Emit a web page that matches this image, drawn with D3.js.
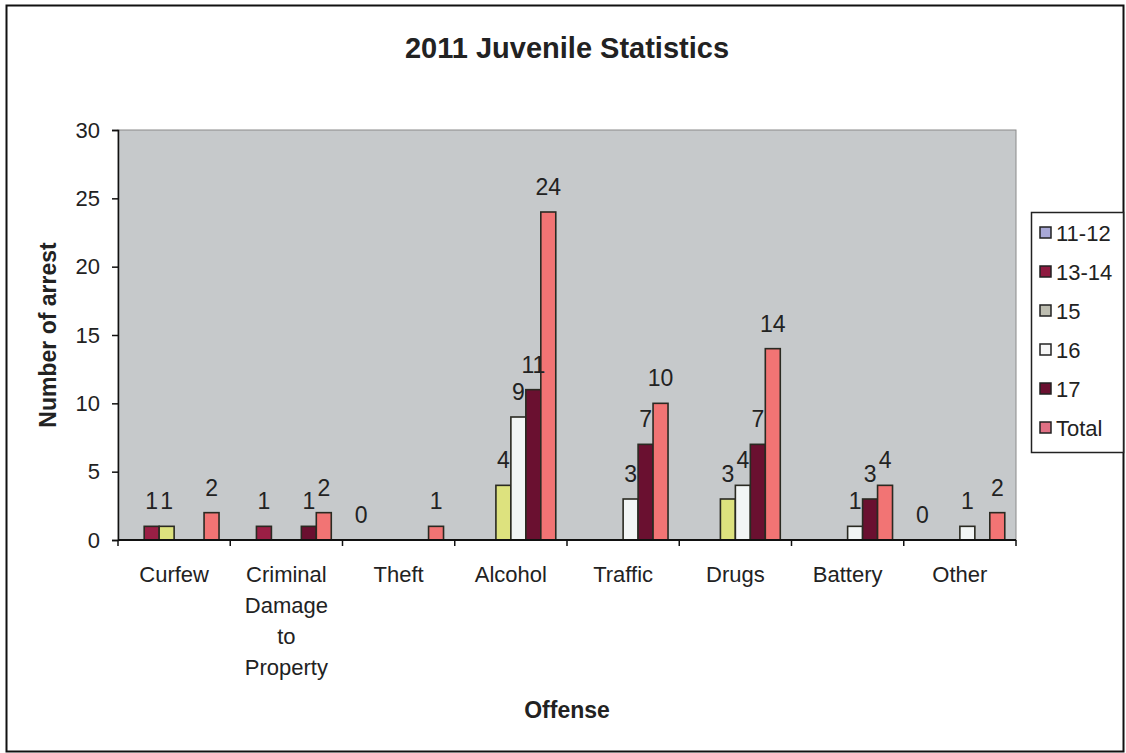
<!DOCTYPE html>
<html>
<head>
<meta charset="utf-8">
<script src="https://cdn.jsdelivr.net/npm/d3@7"></script>
<style>
  body { margin: 0; background: #fff; }
  text { font-family: "Liberation Sans", Arial, sans-serif; fill: #222; }
</style>
</head>
<body>
<div id="chart-area"></div>
<script>
// Data (null = no bar drawn)
const offenses = ["Curfew", "Criminal Damage to Property", "Theft", "Alcohol", "Traffic", "Drugs", "Battery", "Other"]
const offenseLines = [["Curfew"], ["Criminal", "Damage", "to", "Property"], ["Theft"], ["Alcohol"], ["Traffic"], ["Drugs"], ["Battery"], ["Other"]]
const seriesNames = ["11-12", "13-14", "15", "16", "17", "Total"]
const age1112 = [null, null, 0, null, null, null, null, 0]
const age1314 = [1, 1, null, null, null, null, null, null]
const age15 = [1, null, null, 4, null, 3, null, null]
const age16 = [null, null, null, 9, 3, 4, 1, 1]
const age17 = [null, 1, null, 11, 7, 7, 3, null]
const totals = [2, 2, 1, 24, 10, 14, 4, 2]
const yTicks = [0, 5, 10, 15, 20, 25, 30]

const seriesValues = [age1112, age1314, age15, age16, age17, totals]
const barColors = ["#a3a3dc", "#9b1f45", "#dde27e", "#f2f5f5", "#6a1030", "#f27474"]
const legendColors = ["#a8a8d6", "#8e1a40", "#bdbdb0", "#f6f6f6", "#6a1030", "#e07084"]

// Set up margins
const W = 1126, H = 753
const PLOT = { LEFT: 118, RIGHT: 1016, TOP: 130, BOTTOM: 540 }

const svg = d3.select("#chart-area").append("svg")
  .attr("width", W)
  .attr("height", H)

// Outer chart border
svg.append("rect")
  .attr("x", 6.5).attr("y", 5.5)
  .attr("width", 1117).attr("height", 746)
  .attr("fill", "#fff")
  .attr("stroke", "#111")
  .attr("stroke-width", 2)

// Scales
const x = d3.scaleBand()
  .domain(offenses)
  .range([PLOT.LEFT, PLOT.RIGHT])

const xInner = d3.scaleBand()
  .domain(seriesNames)
  .range([0, x.bandwidth()])
  .paddingInner(0)
  .paddingOuter(0.75)

const y = d3.scaleLinear()
  .domain([0, 30])
  .range([PLOT.BOTTOM, PLOT.TOP])

// Plot area background
svg.append("rect")
  .attr("x", PLOT.LEFT).attr("y", PLOT.TOP)
  .attr("width", PLOT.RIGHT - PLOT.LEFT)
  .attr("height", PLOT.BOTTOM - PLOT.TOP)
  .attr("fill", "#c6c9cb")
  .attr("stroke", "#8a8a8a")
  .attr("stroke-width", 1)

// Title
svg.append("text")
  .attr("x", 567).attr("y", 58)
  .attr("text-anchor", "middle")
  .attr("font-size", "29px")
  .attr("font-weight", "bold")
  .text("2011 Juvenile Statistics")

// Bars
const flat = []
seriesValues.forEach((vals, si) => {
  vals.forEach((v, ci) => {
    if (v !== null) flat.push({ series: seriesNames[si], si: si, offense: offenses[ci], value: v })
  })
})

const g = svg.append("g")

g.selectAll("rect.bar")
  .data(flat.filter(d => d.value > 0))
  .enter().append("rect")
  .attr("class", "bar")
  .attr("x", d => x(d.offense) + xInner(d.series))
  .attr("y", d => y(d.value))
  .attr("width", xInner.bandwidth())
  .attr("height", d => y(0) - y(d.value))
  .attr("fill", d => barColors[d.si])
  .attr("stroke", "#2a2a22")
  .attr("stroke-width", 1.6)

// Data labels
g.selectAll("text.lbl")
  .data(flat)
  .enter().append("text")
  .attr("class", "lbl")
  .attr("x", d => x(d.offense) + xInner(d.series) + xInner.bandwidth() / 2)
  .attr("y", d => y(d.value) - 17)
  .attr("text-anchor", "middle")
  .attr("font-size", "23px")
  .attr("fill", "#2a2a2a")
  .text(d => d.value)

// Y axis
const yAxisCall = d3.axisLeft(y)
  .tickValues(yTicks)
  .tickSize(6)
  .tickPadding(12)
const yAxis = svg.append("g")
  .attr("transform", `translate(${PLOT.LEFT}, 0)`)
  .call(yAxisCall)
yAxis.select(".domain").attr("stroke", "#111").attr("stroke-width", 1.5)
yAxis.selectAll(".tick line").attr("stroke", "#111").attr("stroke-width", 1.5)
yAxis.selectAll(".tick text")
  .attr("font-size", "22px")
  .attr("font-family", "Liberation Sans, Arial, sans-serif")
  .attr("fill", "#222")

// X axis (ticks at category boundaries)
const xAxis = svg.append("g")
xAxis.append("line")
  .attr("x1", PLOT.LEFT).attr("x2", PLOT.RIGHT)
  .attr("y1", PLOT.BOTTOM).attr("y2", PLOT.BOTTOM)
  .attr("stroke", "#111").attr("stroke-width", 1.8)
const bounds = offenses.map(o => x(o)).concat([x.range()[1]])
xAxis.selectAll("line.tick")
  .data(bounds)
  .enter().append("line")
  .attr("class", "tick")
  .attr("x1", d => d).attr("x2", d => d)
  .attr("y1", PLOT.BOTTOM).attr("y2", PLOT.BOTTOM + 6)
  .attr("stroke", "#111").attr("stroke-width", 1.5)

const catLabels = xAxis.selectAll("text.cat")
  .data(offenses)
  .enter().append("text")
  .attr("class", "cat")
  .attr("x", d => x(d) + x.bandwidth() / 2)
  .attr("y", 582)
  .attr("text-anchor", "middle")
  .attr("font-size", "22px")
catLabels.each(function (d, i) {
  d3.select(this).selectAll("tspan")
    .data(offenseLines[i])
    .enter().append("tspan")
    .attr("x", x(d) + x.bandwidth() / 2)
    .attr("dy", (t, j) => j === 0 ? 0 : 31)
    .text(t => t)
})

// Axis titles
svg.append("text")
  .attr("x", 567).attr("y", 718)
  .attr("text-anchor", "middle")
  .attr("font-size", "23px")
  .attr("font-weight", "bold")
  .text("Offense")

svg.append("text")
  .attr("transform", "translate(56, 335) rotate(-90)")
  .attr("text-anchor", "middle")
  .attr("font-size", "23px")
  .attr("font-weight", "bold")
  .text("Number of arrest")

// Legend
const legend = svg.append("g")
legend.append("rect")
  .attr("x", 1031.5).attr("y", 212.5)
  .attr("width", 92).attr("height", 240)
  .attr("fill", "#fff")
  .attr("stroke", "#222")
  .attr("stroke-width", 1.5)

seriesNames.forEach((name, i) => {
  const row = legend.append("g")
    .attr("transform", `translate(1040, ${233 + i * 39})`)
  row.append("rect")
    .attr("x", 0).attr("y", -6)
    .attr("width", 11).attr("height", 11)
    .attr("fill", legendColors[i])
    .attr("stroke", "#222")
    .attr("stroke-width", 1.5)
  row.append("text")
    .attr("x", 16).attr("y", 8)
    .attr("font-size", "22px")
    .text(name)
})
</script>
</body>
</html>
